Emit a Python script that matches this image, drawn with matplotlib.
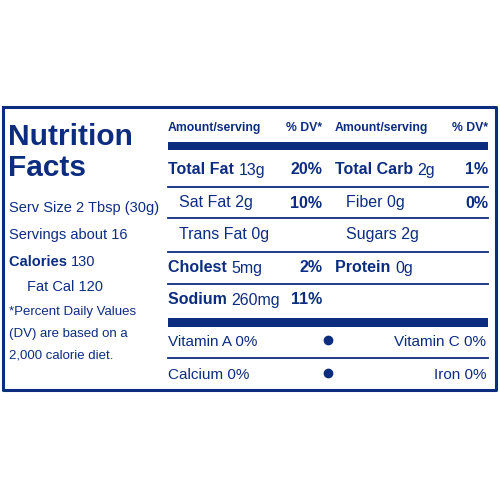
import matplotlib.pyplot as plt

navy = '#0c2c80'
fam = ['Liberation Sans', 'DejaVu Sans']

# left panel text
left_lines = ['Serv Size 2 Tbsp (30g)', 'Servings about 16']
calories = '130'
fat_cal = 'Fat Cal 120'
footnote = ['*Percent Daily Values', '(DV) are based on a', '2,000 calorie diet.']

# table rows: (bold label, amount, dv, indented)
left_rows = [('Total Fat', '13g', '20%', False), ('Sat Fat', '2g', '10%', True),
             ('Trans Fat', '0g', '', True), ('Cholest', '5mg', '2%', False),
             ('Sodium', '260mg', '11%', False)]
right_rows = [('Total Carb', '2g', '1%', False), ('Fiber', '0g', '0%', True),
              ('Sugars', '2g', '', True), ('Protein', '0g', '', False)]
vitamins = [('Vitamin A 0%', 'Vitamin C 0%'), ('Calcium 0%', 'Iron 0%')]

fig = plt.figure(figsize=(5, 5), dpi=100)
ax = fig.add_axes([0, 0, 1, 1])
ax.set_xlim(0, 500)
ax.set_ylim(500, 0)
ax.axis('off')

# outer box
ax.plot([3, 496, 496, 3, 3], [107, 107, 390, 390, 107], color=navy, lw=2.2)

# left panel
ax.text(8, 137, 'Nutrition', fontsize=21.5, fontweight='bold', color=navy, family=fam, va='center')
ax.text(8, 168, 'Facts', fontsize=21.5, fontweight='bold', color=navy, family=fam, va='center')
y = 208
for s in left_lines:
    ax.text(9, y, s, fontsize=10.5, color=navy, family=fam, va='center')
    y += 27
t = ax.text(9, 262, 'Calories ', fontsize=10.5, fontweight='bold', color=navy, family=fam, va='center')
ax.annotate(calories, xycoords=t, xy=(1, 0.5), va='center', fontsize=10.5, color=navy, family=fam)
ax.text(27, 287, fat_cal, fontsize=10.5, color=navy, family=fam, va='center')
for i, s in enumerate(footnote):
    ax.text(9, 312 + 21.5 * i, s, fontsize=9.5, color=navy, family=fam, va='center')

# header
for x0, x1 in [(168, 322), (335, 488)]:
    ax.text(x0, 128, 'Amount/serving', fontsize=8.8, fontweight='bold', color=navy, family=fam, va='center')
    ax.text(x1, 128, '% DV*', fontsize=8.8, fontweight='bold', color=navy, family=fam, va='center', ha='right')
ax.fill_between([168, 488], 142, 150, color=navy, lw=0)
ax.fill_between([168, 488], 318, 327, color=navy, lw=0)
for yl in [187, 218, 252, 284, 358]:
    ax.plot([168, 488], [yl, yl], color=navy, lw=1.3)

row_y = [170, 203, 235, 268, 300]

def draw_rows(rows, x0, xdv):
    for (lab, amt, dv, ind), yy in zip(rows, row_y):
        xs = x0 + (11 if ind else 0)
        if ind:
            ax.text(xs, yy, lab + ' ' + amt, fontsize=11.5, color=navy, family=fam, va='center')
        else:
            t = ax.text(xs, yy, lab + ' ', fontsize=11.5, fontweight='bold', color=navy, family=fam, va='center')
            ax.annotate(amt, xycoords=t, xy=(1, 0.5), va='center', fontsize=11.5, color=navy, family=fam)
        if dv:
            ax.text(xdv, yy, dv, fontsize=11.5, fontweight='bold', color=navy, family=fam, va='center', ha='right')

draw_rows(left_rows, 168, 322)
draw_rows(right_rows, 335, 488)

for (a, b), yy in zip(vitamins, [342, 375]):
    ax.text(168, yy, a, fontsize=11, color=navy, family=fam, va='center')
    ax.text(486, yy, b, fontsize=11, color=navy, family=fam, va='center', ha='right')
    ax.plot(328, yy - 2, 'o', color=navy, ms=6)

fig.savefig('out.png', dpi=100, facecolor='white')
